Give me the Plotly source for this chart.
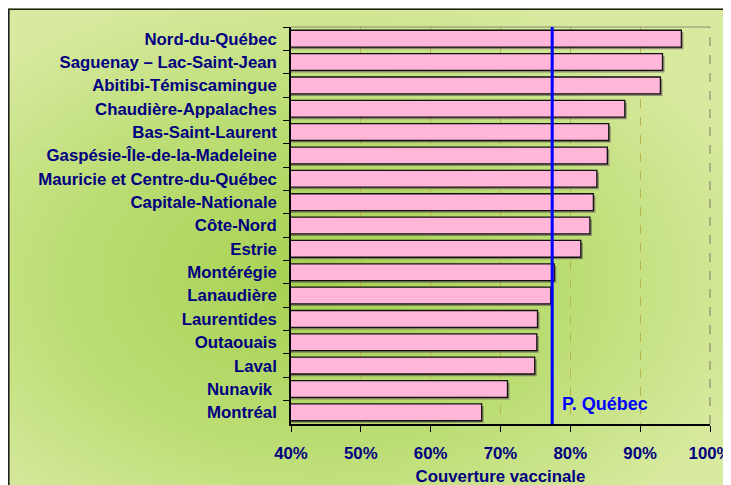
import plotly.graph_objects as go

regions = [
    "Nord-du-Québec", "Saguenay – Lac-Saint-Jean", "Abitibi-Témiscamingue",
    "Chaudière-Appalaches", "Bas-Saint-Laurent", "Gaspésie-Île-de-la-Madeleine",
    "Mauricie et Centre-du-Québec", "Capitale-Nationale", "Côte-Nord", "Estrie",
    "Montérégie", "Lanaudière", "Laurentides", "Outaouais", "Laval", "Nunavik ",
    "Montréal",
]
coverage = [95.9, 93.2, 92.9, 87.8, 85.5, 85.3, 83.8, 83.3, 82.8, 81.5,
            77.7, 77.2, 75.3, 75.2, 74.9, 71.0, 67.3]
quebec_avg = 77.4
quebec_label = "P. Québec"
x_ticks = [40, 50, 60, 70, 80, 90, 100]
x_ticklabels = ["40%", "50%", "60%", "70%", "80%", "90%", "100%"]
x_title = "Couverture vaccinale"

# figure is placed at (8, 8) in the page by the body margin
W, H = 740, 495
ML, MR, MT, MB = 283, 38, 19, 79
pw, ph = W - ML - MR, H - MT - MB

def px_x(p):  # figure pixel -> paper x
    return (p - ML) / pw

def px_y(p):  # figure pixel -> paper y
    return (H - MB - p) / ph

NAVY = "#000080"
FONT = "Liberation Sans, Arial, sans-serif"
FS = 16.8

shadow_dx = 2.0 / pw * 60  # 2 px in axis units

fig = go.Figure()
fig.add_trace(go.Bar(
    x=[v + shadow_dx for v in coverage], y=regions, orientation="h",
    marker=dict(color="rgba(90,70,80,0.55)", line=dict(width=0)),
    width=0.72, offset=-0.36 + 0.09, showlegend=False, hoverinfo="skip",
))
fig.add_trace(go.Bar(
    x=coverage, y=regions, orientation="h",
    marker=dict(color="#FFB6D9", line=dict(color="#111111", width=1.3)),
    width=0.72, offset=-0.36, showlegend=False, hoverinfo="x+y",
))

bg_svg = (
    "data:image/svg+xml;utf8,"
    "<svg xmlns='http://www.w3.org/2000/svg' width='100' height='100' preserveAspectRatio='none'>"
    "<defs><radialGradient id='g' cx='0.42' cy='0.55' r='0.62'>"
    "<stop offset='0' stop-color='%23a6d150'/>"
    "<stop offset='0.55' stop-color='%23bcdd74'/>"
    "<stop offset='1' stop-color='%23d8eaa0'/>"
    "</radialGradient></defs>"
    "<rect width='100' height='100' fill='url(%23g)'/></svg>"
)
fig.add_layout_image(dict(
    source=bg_svg, xref="paper", yref="paper",
    x=px_x(0), y=px_y(0), sizex=px_x(W) - px_x(0), sizey=px_y(0) - px_y(H),
    sizing="stretch", layer="below", xanchor="left", yanchor="top",
))

shapes = [
    dict(type="rect", xref="paper", yref="paper",
         x0=px_x(0.8), x1=px_x(W + 5), y0=px_y(H + 5), y1=px_y(1.2),
         line=dict(color="#202020", width=1.6), fillcolor="rgba(0,0,0,0)", layer="below"),
    dict(type="line", xref="paper", yref="paper", x0=0, x1=1, y0=1, y1=1,
         line=dict(color="#8a8a70", width=1.2)),
    dict(type="line", xref="paper", yref="paper", x0=1, x1=1, y0=0, y1=1,
         line=dict(color="#8a8a70", width=1.2, dash="dash")),
    dict(type="line", xref="x", yref="paper", x0=quebec_avg, x1=quebec_avg, y0=0, y1=1,
         line=dict(color="#0000FF", width=3)),
]
fig.update_layout(shapes=shapes)

fig.add_annotation(x=quebec_avg + 1.1, y=px_y(396), xref="x", yref="paper",
                   text=quebec_label, showarrow=False, xanchor="left", yanchor="middle",
                   font=dict(family=FONT, size=18, color="#0000FF", weight="bold"))

fig.update_layout(
    width=W, height=H,
    margin=dict(l=ML, r=MR, t=MT, b=MB, autoexpand=False),
    paper_bgcolor="rgba(0,0,0,0)", plot_bgcolor="#FFFFCC",
    barmode="overlay",
    xaxis=dict(
        range=[40, 100], tickvals=x_ticks, ticktext=x_ticklabels,
        showgrid=True, gridcolor="#B8B450", griddash="dash", gridwidth=1,
        showline=True, linecolor="black", linewidth=1.5,
        ticks="outside", ticklen=6, tickcolor="black", tickwidth=1.2,
        ticklabelstandoff=7,
        tickfont=dict(family=FONT, size=FS, color=NAVY, weight="bold"),
        title=dict(text=x_title, standoff=8,
                   font=dict(family=FONT, size=FS, color=NAVY, weight="bold")),
        zeroline=False, fixedrange=True,
    ),
    yaxis=dict(
        autorange="reversed", showgrid=False,
        showline=True, linecolor="black", linewidth=1.5,
        ticks="outside", ticklen=6, tickcolor="black", tickwidth=1.2,
        tickson="boundaries", ticklabelstandoff=9,
        tickfont=dict(family=FONT, size=FS, color=NAVY, weight="bold"),
        fixedrange=True,
    ),
)

fig.write_html("out.html")
